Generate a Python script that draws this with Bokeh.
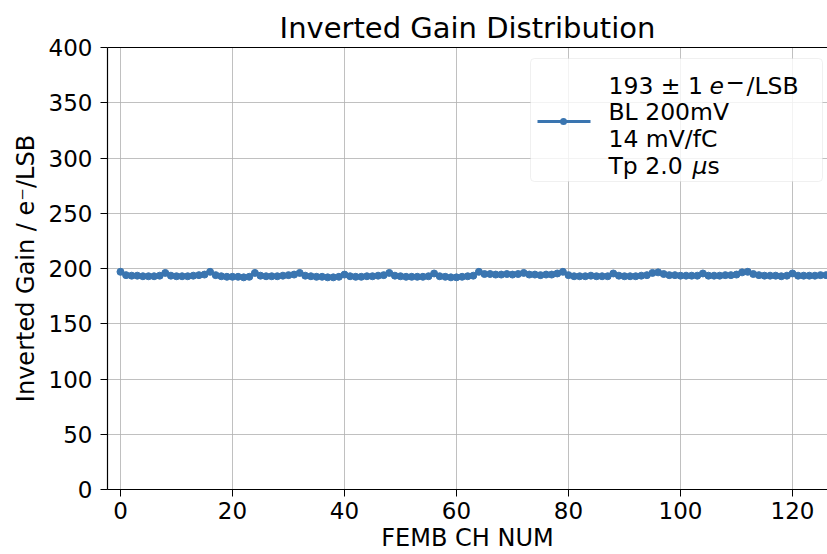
from bokeh.plotting import figure
from bokeh.models import Range1d, LinearAxis, FixedTicker, Label, BoxAnnotation, ColumnDataSource
from bokeh.embed import file_html
from bokeh.resources import INLINE

channels = list(range(128))
inverted_gain = [
    197, 194, 193.5, 193.5, 193, 193, 193, 193.5,
    196, 193.5, 193, 193, 193, 193.5, 194, 194.5,
    197, 194, 193, 192.5, 192.5, 192.5, 192, 192.5,
    196, 193.5, 193, 193, 193, 193.5, 194, 194.5,
    196, 193.5, 193, 192.5, 192.5, 192, 192, 192.5,
    194.5, 193, 192.5, 192.5, 193, 193, 193.5, 194,
    196, 193.5, 193, 192.5, 192.5, 192.5, 192.5, 193,
    195.5, 193, 192.5, 192, 192, 192.5, 193, 193.5,
    197, 195, 195, 194.5, 194.5, 195, 194.5, 195,
    196, 194.5, 194.5, 194, 194.5, 194.5, 195.5, 197,
    194, 193, 193, 193, 193.5, 193, 193, 193,
    195.5, 193.5, 193, 193, 193, 193.5, 194, 196,
    196.5, 195, 194, 194, 193.5, 193.5, 193.5, 193.5,
    195.5, 193.5, 193.5, 193.5, 194, 194, 194.5, 196.5,
    197, 195, 194, 193.5, 193.5, 193.5, 193, 193.5,
    195.5, 193.5, 193.5, 193.5, 193.5, 194, 194, 195,
]
x_ticks = [0, 20, 40, 60, 80, 100, 120]
y_ticks = [0, 50, 100, 150, 200, 250, 300, 350, 400]

FONT = "DejaVu Sans"
BLUE = "#3a75b0"
FL, FB = 107, 490  # frame left / bottom in page pixels


def sx(px):
    return px - FL


def sy(py):
    return FB - py


p = figure(width=827, height=554, output_backend="svg", toolbar_location=None,
           x_range=Range1d(-2.32, 126.25), y_range=Range1d(0, 400),
           min_border_left=107, min_border_right=0, min_border_top=47, min_border_bottom=64,
           title="Inverted Gain Distribution")
p.outline_line_color = None
p.background_fill_color = "white"
p.border_fill_color = "white"

p.title.text_font = FONT
p.title.text_font_size = "29px"
p.title.text_font_style = "normal"
p.title.align = "center"
p.title.text_color = "black"
p.title.offset = 0
p.title.standoff = 6

for ax, ticks in ((p.xaxis[0], x_ticks), (p.yaxis[0], y_ticks)):
    ax.ticker = FixedTicker(ticks=ticks)
    ax.major_label_text_font = FONT
    ax.major_label_text_font_size = "23px"
    ax.major_label_text_color = "black"
    ax.axis_label_text_font = FONT
    ax.axis_label_text_font_size = "24px"
    ax.axis_label_text_font_style = "normal"
    ax.axis_label_text_color = "black"
    ax.major_tick_out = 7
    ax.major_tick_in = 0
    ax.minor_tick_out = 0
    ax.minor_tick_in = 0
    ax.axis_line_color = "black"
    ax.axis_line_width = 1.2
    ax.major_tick_line_color = "black"

p.xaxis.axis_label = "FEMB CH NUM"
p.yaxis.axis_label = "Inverted Gain / e\u207b/LSB"
p.xaxis.major_label_standoff = 5
p.yaxis.major_label_standoff = 8
p.xaxis.axis_label_standoff = 2
p.yaxis.axis_label_standoff = 6

top_axis = LinearAxis(ticker=FixedTicker(ticks=[]), major_label_text_font_size="0px",
                      axis_line_color="black", axis_line_width=1.2,
                      major_tick_out=0, minor_tick_out=0)
p.add_layout(top_axis, "above")

p.xgrid.ticker = FixedTicker(ticks=x_ticks)
p.ygrid.ticker = FixedTicker(ticks=y_ticks)
p.grid.grid_line_color = "#b0b0b0"
p.grid.grid_line_width = 1
p.grid.grid_line_alpha = 0.8

src = ColumnDataSource(dict(x=channels, y=inverted_gain))
p.line("x", "y", source=src, line_color=BLUE, line_width=3)
p.scatter("x", "y", source=src, size=7, fill_color=BLUE, line_color=BLUE)

# legend (drawn manually so that the label can span several lines)
scr = dict(left_units="screen", right_units="screen", top_units="screen", bottom_units="screen")
p.add_layout(BoxAnnotation(left=sx(530), right=sx(822), top=sy(59), bottom=sy(182),
                           fill_color="white", fill_alpha=0.8, line_color="#cccccc", line_width=1,
                           border_radius=4, **scr))
p.add_layout(BoxAnnotation(left=sx(537), right=sx(590), top=sy(120.5), bottom=sy(123.5),
                           fill_color=BLUE, fill_alpha=1, line_color=None, **scr))
p.add_layout(BoxAnnotation(left=sx(559.5), right=sx(566.5), top=sy(118.5), bottom=sy(125.5),
                           fill_color=BLUE, fill_alpha=1, line_color=None, border_radius=4, **scr))

legend_parts = [
    ("193 \u00b1 1", 608, 86, "normal", 23.5),
    ("e", 709, 86, "italic", 23.5),
    ("\u2212", 725, 82, "normal", 23),
    ("/LSB", 746, 86, "normal", 23.5),
    ("BL 200mV", 608, 112.7, "normal", 23.5),
    ("14 mV/fC", 608, 139.3, "normal", 23.5),
    ("Tp 2.0", 608, 166, "normal", 23.5),
    ("\u03bc", 692, 166, "italic", 23.5),
    ("s", 707, 166, "normal", 23.5),
]
for txt, px, py, style, fs in legend_parts:
    p.add_layout(Label(x=sx(px), y=sy(py), x_units="screen", y_units="screen", text=txt,
                       text_font=FONT, text_font_size=f"{fs}px", text_font_style=style,
                       text_color="black", text_baseline="alphabetic", text_align="left"))

open("out.html", "w").write(file_html(p, INLINE))
